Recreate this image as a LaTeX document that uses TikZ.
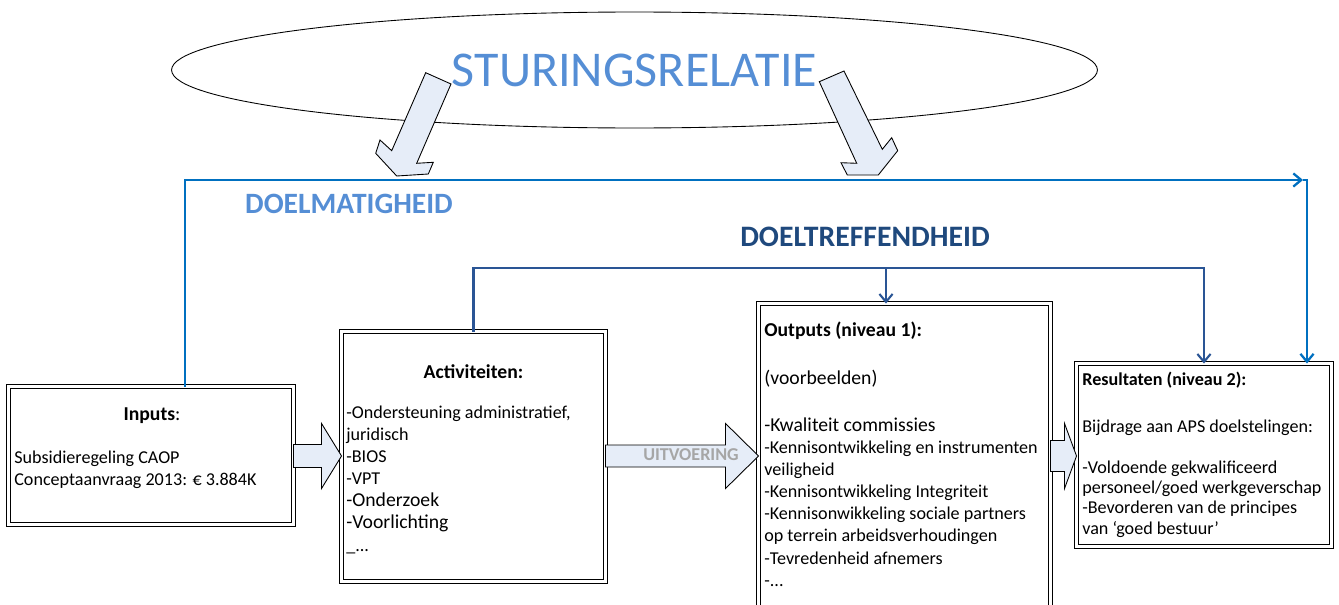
\documentclass[tikz,border=0pt]{standalone}
\usepackage{fontspec}
\setmainfont{Carlito}
\usetikzlibrary{arrows.meta,calc,shapes.geometric}
\definecolor{sturblue}{HTML}{558ED5}
\definecolor{mblue}{HTML}{0070C0}
\definecolor{tblue}{HTML}{1F497D}
\definecolor{tlinecol}{HTML}{2A5595}
\definecolor{arrowfill}{HTML}{E6EDF8}
\definecolor{uitgray}{HTML}{A6A6A6}
\newcommand{\largeitem}{\fontsize{11.2}{12.6}\selectfont}
\newcommand{\flowarrow}[4]{%
  \draw[flow] ($(#1.east |- row)+(0,-#3)$) -- ($(#2.west |- row)+(-#4,-#3)$) -- ($(#2.west |- row)+(-#4,-32.5)$) -- (#2.west |- row) -- ($(#2.west |- row)+(-#4,32.5)$) -- ($(#2.west |- row)+(-#4,#3)$) -- ($(#1.east |- row)+(0,#3)$) -- cycle;}
\begin{document}
\begin{tikzpicture}[x=0.02cm, y=-0.02cm,
  box/.style={draw, double, double distance=1.3pt, line width=0.7pt, fill=white, inner sep=0pt, outer sep=0pt},
  txt/.style={anchor=north west, align=left, inner sep=0pt, font=\fontsize{10.3}{12.6}\selectfont},
  line/.style={anchor=base west, inner sep=0pt, font=\fontsize{10.3}{12.6}\selectfont},
  head/.style={anchor=base, inner sep=0pt, font=\largeitem},
  flow/.style={draw=black, line width=0.5pt, fill=arrowfill},
  mline/.style={draw=mblue, line width=1.3pt, -{Straight Barb[length=4.5pt,width=7.5pt]}},
  tline/.style={draw=tlinecol, line width=1.2pt, -{Straight Barb[length=4.5pt,width=7.5pt]}}]
  \useasboundingbox (0,0) rectangle (1339,605);
  \clip (0,0) rectangle (1339,605);
  \node[draw, ellipse, line width=0.5pt, minimum width=18.52cm, minimum height=2.32cm, inner sep=0pt, text=sturblue, font=\fontsize{28.5}{32}\selectfont] (stuur) at (634.5,70) {STURINGSRELATIE};
  \draw[flow] (425.7,72.7) -- (391.7,150.7) -- (380,140) -- (375.7,153.3) -- (396.7,176) -- (428.3,174) -- (433.3,162.3) -- (416.7,163.3) -- (451,84) -- cycle;
  \draw[flow] (844,71) -- (882.3,149.3) -- (891.7,137.7) -- (897.7,150.7) -- (878.3,175) -- (847.3,175) -- (841,162.7) -- (856.7,163.3) -- (819.3,81.7) -- cycle;

  \node[box, minimum width=5.7cm, minimum height=2.76cm] (inputs) at (151,455.5) {};
  \node[box, minimum width=5.28cm, minimum height=5cm] (act) at (473.5,456.5) {};
  \node[box, minimum width=5.84cm, minimum height=6.43cm] (outputs) at (904.5,464.25) {};
  \node[box, minimum width=5.1cm, minimum height=3.66cm] (res) at (1204,455) {};

  \coordinate (row) at (0,456);
  \coordinate (mtip) at (1303,180);
  \coordinate (tjoin) at (886,268);
  \flowarrow{inputs}{act}{11.5}{20}
  \flowarrow{act}{outputs}{11}{33}
  \flowarrow{outputs}{res}{15.5}{12}

  \draw[mline] ($(inputs.north)+(34,0)$) |- (mtip);
  \draw[mline] (mtip) -| ($(res.north)+(103,0)$);
  \draw[tline] (act.north) |- (tjoin) -| (res.north);
  \draw[tline] (tjoin) -- (tjoin |- outputs.north);

  \node[text=sturblue, font=\bfseries\fontsize{16.8}{18}\selectfont] (doelm) at (349,204) {DOELMATIGHEID};
  \node[text=tblue, font=\bfseries\fontsize{16.9}{18}\selectfont] (doelt) at (865,237) {DOELTREFFENDHEID};
  \node[text=uitgray, font=\bfseries\fontsize{10.3}{12}\selectfont] (uitv) at (691,455) {UITVOERING};

  \node[head] (inputsT) at (152,420) {\textbf{Inputs}:};
  \node[txt] (inputsL) at (14,447.4) {\strut Subsidieregeling CAOP\\Conceptaanvraag 2013: € 3.884K};
  \node[head] (actT) at (473.5,378) {\textbf{Activiteiten:}};
  \node[txt] (actL) at (346,402.4) {\strut -Ondersteuning administratief,\\juridisch\\-BIOS\\-VPT\\{\largeitem -Onderzoek}\\{\largeitem -Voorlichting}\\\_...};
  \node[line, font=\largeitem] (outT) at (764,336) {\textbf{Outputs (niveau 1):}};
  \node[line, font=\largeitem] (outV) at (764,384) {(voorbeelden)};
  \node[txt] (outL) at (764,415.4) {\strut{\largeitem -Kwaliteit commissies}\\-Kennisontwikkeling en instrumenten\\veiligheid\\-Kennisontwikkeling Integriteit\\-Kennisonwikkeling sociale partners\\op terrein arbeidsverhoudingen\\-Tevredenheid afnemers\\-...};
  \node[line] (resT) at (1082,385) {\textbf{Resultaten (niveau 2):}};
  \node[txt, font=\fontsize{10.3}{11.6}\selectfont] (resL) at (1082,417.7) {\strut Bijdrage aan APS doelstelingen:\\[11.6pt]-Voldoende gekwalificeerd\\personeel/goed werkgeverschap\\-Bevorderen van de principes\\van ‘goed bestuur’};
\end{tikzpicture}
\end{document}
